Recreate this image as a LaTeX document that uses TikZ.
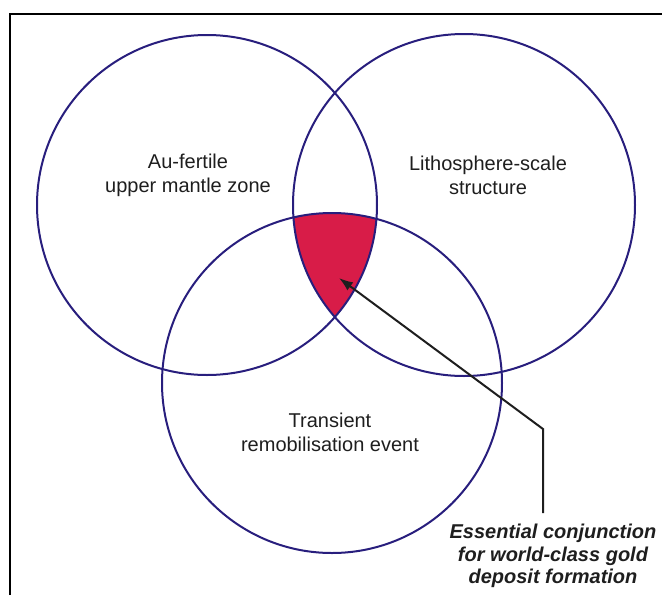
\documentclass[tikz,border=0pt]{standalone}
\usepackage{fontspec}
\setmainfont{Liberation Sans}
\usetikzlibrary{arrows.meta}
\definecolor{navy}{RGB}{40,30,125}
\definecolor{crimson}{RGB}{216,28,72}
\definecolor{txt}{RGB}{30,30,30}
\begin{document}
\begin{tikzpicture}[x=1pt,y=-1pt,
  ring/.style={draw=navy, line width=2pt},
  lbl/.style={text=txt, font=\fontsize{20}{24}\selectfont, align=center, inner sep=0pt},
  note/.style={text=txt, font=\fontsize{20}{22.5}\selectfont\bfseries\itshape, align=center, inner sep=0pt},
  pointer/.style={draw=txt, line width=2pt, -{Latex[length=14pt,width=10pt]}}]
\useasboundingbox (0,0) rectangle (662,595);
\draw[line width=2pt] (10,595) -- (10,14) -- (662,14);
\coordinate (c1) at (207,205);
\coordinate (c2) at (464,205);
\coordinate (c3) at (332,383);
\begin{scope}
  \clip (c1) circle[radius=170pt];
  \clip (c2) circle[radius=171pt];
  \fill[crimson] (c3) circle[radius=170pt];
\end{scope}
\draw[ring] (c1) circle[radius=170pt];
\draw[ring] (c2) circle[radius=171pt];
\draw[ring] (c3) circle[radius=170pt];
\node[lbl] (t1) at (188,175) {Au-fertile\\upper mantle zone};
\node[lbl] (t2) at (488,175) {Lithosphere-scale\\structure};
\node[lbl] (t3) at (330,432) {Transient\\remobilisation event};
\node[note] (t4) at (553,556) {Essential conjunction\\for world-class gold\\deposit formation};
\coordinate (start) at (543,513);
\coordinate (bend) at (543,429);
\coordinate (tip) at (339,278);
\draw[pointer] (start) -- (bend) -- (tip);
\end{tikzpicture}
\end{document}
